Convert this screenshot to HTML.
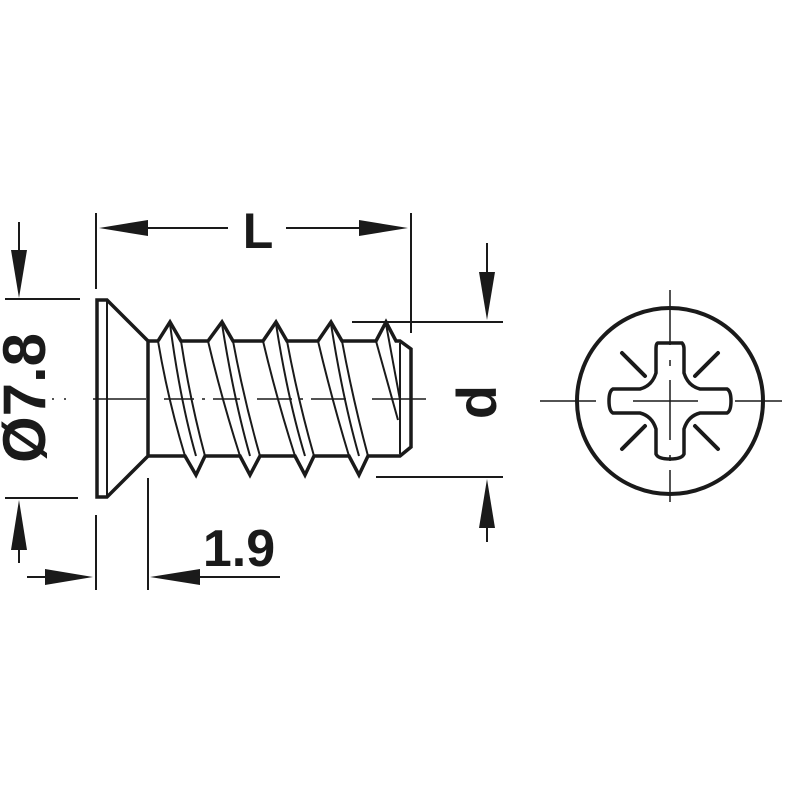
<!DOCTYPE html>
<html><head><meta charset="utf-8"><style>html,body{margin:0;padding:0;background:#fff}svg{display:block}</style></head><body>
<svg width="800" height="800" viewBox="0 0 800 800" xmlns="http://www.w3.org/2000/svg">
<rect width="800" height="800" fill="#fff"/>
<g stroke="#1a1a1a" fill="none" stroke-linecap="butt" stroke-linejoin="miter">
<g stroke-width="2">
<line x1="96" y1="213" x2="96" y2="289"/>
<line x1="96" y1="515" x2="96" y2="590"/>
<line x1="411" y1="213" x2="411" y2="333"/>
<line x1="120" y1="228" x2="228" y2="228"/>
<line x1="286" y1="228" x2="390" y2="228"/>
<line x1="5" y1="299" x2="80" y2="299"/>
<line x1="5" y1="498" x2="78" y2="498"/>
<line x1="19" y1="222" x2="19" y2="270"/>
<line x1="19" y1="530" x2="19" y2="563"/>
<line x1="27" y1="577" x2="60" y2="577"/>
<line x1="180" y1="577" x2="280" y2="577"/>
<line x1="148" y1="478" x2="148" y2="590"/>
<line x1="352" y1="322" x2="503" y2="322"/>
<line x1="376" y1="477" x2="503" y2="477"/>
<line x1="487" y1="243" x2="487" y2="290"/>
<line x1="487" y1="510" x2="487" y2="542"/>
</g>
<g stroke-width="1.5">
<line x1="52" y1="399" x2="58" y2="399" stroke-dasharray="2 10"/>
<line x1="64" y1="399" x2="76" y2="399" stroke-dasharray="2 10"/>
<line x1="93" y1="399" x2="146" y2="399"/>
<line x1="164" y1="399" x2="240" y2="399" stroke-dasharray="30 8 3 8"/>
<line x1="257" y1="399" x2="350" y2="399" stroke-dasharray="35 8 3 8"/>
<line x1="372" y1="399" x2="426" y2="399"/>
<line x1="540" y1="401" x2="596" y2="401"/>
<line x1="633" y1="401" x2="698" y2="401"/>
<line x1="735" y1="401" x2="782" y2="401"/>
<line x1="670" y1="290" x2="670" y2="345"/>
<line x1="670" y1="360" x2="670" y2="366"/>
<line x1="670" y1="380" x2="670" y2="440"/>
<line x1="670" y1="455" x2="670" y2="461"/>
<line x1="670" y1="470" x2="670" y2="502"/>
</g>
<g stroke-width="3.5">
<polygon points="97,300 107,300 148,341 148,456 107,497 97,497"/>
<line x1="148" y1="341" x2="158" y2="341"/>
<polyline points="158,341 170,322 181,341 208,341 222,322 233,341 263,341 276,322 287,341 318,341 331,322 342,341 376,341 386,322 396,341 400,341 411,349 411,447 400,456 376,456"/>
<polyline points="148,456 185,456 196,475 205,456 240,456 250,475 260,456 295,456 305,475 314,456 349,456 359,475 368,456 376,456"/>
</g>
<g stroke-width="2">
<line x1="107" y1="300" x2="107" y2="497"/>
<line x1="400" y1="343" x2="400" y2="454"/>
<path d="M158,341 Q168,400 185,456"/>
<path d="M170,324 Q180,400 196,456"/>
<path d="M181,341 Q190,400 205,456"/>
<path d="M208,341 Q222,400 240,456"/>
<path d="M222,324 Q234,400 250,456"/>
<path d="M233,341 Q244,400 260,456"/>
<path d="M263,341 Q277,400 295,456"/>
<path d="M276,324 Q288,400 305,456"/>
<path d="M287,341 Q298,400 314,456"/>
<path d="M318,341 Q332,400 349,456"/>
<path d="M331,324 Q343,400 359,456"/>
<path d="M342,341 Q353,400 368,456"/>
<line x1="376" y1="341" x2="398" y2="420"/>
<line x1="386" y1="324" x2="400" y2="400"/>
</g>
<circle cx="670" cy="401" r="93" stroke-width="4"/>
<path d="M658,343 L682,343 Q684,345 684,349 L684,373 Q688,386 700,389 L727,389 Q731,391 731,401 Q731,411 727,413 L700,413 Q688,416 684,429 L684,454 Q682,459 670,459 Q658,459 656,454 L656,429 Q652,416 640,413 L613,413 Q609,411 609,401 Q609,391 613,389 L640,389 Q652,386 656,373 L656,349 Q656,343 658,343 Z" stroke-width="3.5"/>
<g stroke-width="4" stroke-linecap="round">
<line x1="622" y1="353" x2="645" y2="376"/>
<line x1="718" y1="353" x2="695" y2="376"/>
<line x1="622" y1="449" x2="645" y2="426"/>
<line x1="718" y1="449" x2="695" y2="426"/>
</g>
</g>
<g fill="#1a1a1a">
<polygon points="99,228 148,220 148,236"/>
<polygon points="408,228 359,220 359,236"/>
<polygon points="19,298 11,250 27,250"/>
<polygon points="19,500 11,550 27,550"/>
<polygon points="93,577 45,569 45,585"/>
<polygon points="150,577 200,569 200,585"/>
<polygon points="487,320 479,272 495,272"/>
<polygon points="487,479 479,528 495,528"/>
</g>
<g font-family="Liberation Sans, sans-serif" font-weight="bold" fill="#1a1a1a">
<text x="258" y="248" font-size="50" text-anchor="middle">L</text>
<text x="239" y="566" font-size="52" text-anchor="middle">1.9</text>
<text transform="translate(45,398) rotate(-90)" font-size="60" text-anchor="middle">Ø7.8</text>
<text transform="translate(496,402) rotate(-90)" font-size="56" text-anchor="middle">d</text>
</g>
</svg>
</body></html>
